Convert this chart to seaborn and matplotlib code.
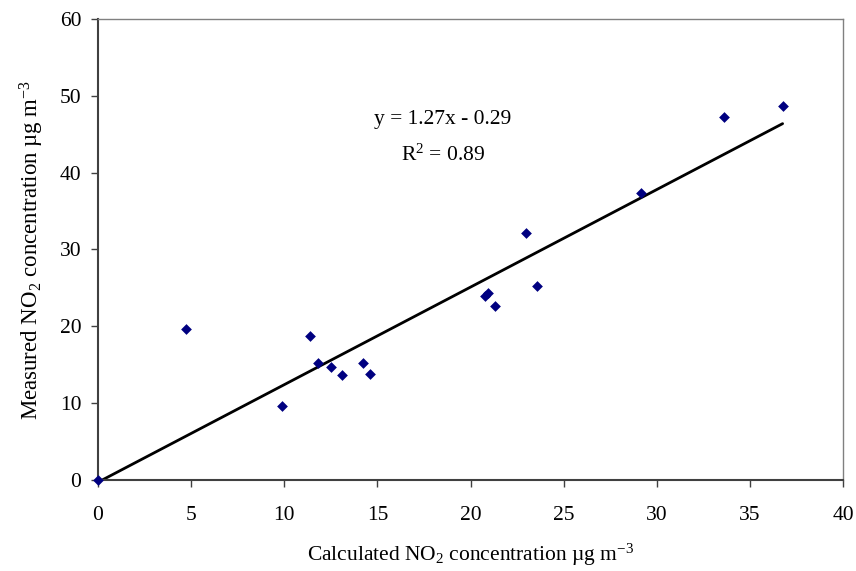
import matplotlib
matplotlib.use("Agg")
import matplotlib.pyplot as plt
import seaborn as sns
import numpy as np
import pandas as pd

calculated = [0.0, 4.7, 9.9, 11.4, 11.8, 12.5, 13.1, 14.2, 14.6, 20.75, 20.95, 21.3, 23.0, 23.55, 29.15, 33.6, 36.75]
measured = [0.0, 19.6, 9.6, 18.7, 15.2, 14.7, 13.6, 15.2, 13.8, 23.95, 24.3, 22.6, 32.2, 25.2, 37.3, 47.2, 48.7]
slope = 1.27
intercept = -0.29
r2 = 0.89
x_ticks = [0, 5, 10, 15, 20, 25, 30, 35, 40]
y_ticks = [0, 10, 20, 30, 40, 50, 60]

sns.set_theme(style="white")
plt.rcParams['font.family'] = ['Liberation Serif', 'DejaVu Serif']
plt.rcParams['mathtext.fontset'] = 'custom'
plt.rcParams['mathtext.rm'] = 'Liberation Serif'
plt.rcParams['mathtext.it'] = 'Liberation Serif:italic'
plt.rcParams['text.color'] = 'black'
plt.rcParams['axes.labelcolor'] = 'black'
plt.rcParams['xtick.color'] = 'black'
plt.rcParams['ytick.color'] = 'black'

df = pd.DataFrame({"calc": calculated, "meas": measured})

fig = plt.figure(figsize=(8.56, 5.71), dpi=100)
ax = fig.add_axes([0.1145, 0.1594, 0.8705, 0.8073])

xs = np.array([0.0, max(calculated)])
ax.plot(xs, slope * xs + intercept, color="black", lw=2, zorder=2)
sns.scatterplot(data=df, x="calc", y="meas", ax=ax, marker="D", color="#000080",
                s=30, edgecolor="#000080", linewidth=0, zorder=3, clip_on=False)

ax.set_xlim(0, 40)
ax.set_ylim(0, 60)
ax.set_xticks(x_ticks)
ax.set_yticks(y_ticks)
ax.tick_params(axis="both", direction="out", length=5, width=1, color="#404040",
               labelsize=15.5, bottom=True, left=True)
ax.tick_params(axis="x", pad=14)
ax.tick_params(axis="y", pad=7)
for side in ["left", "bottom"]:
    ax.spines[side].set_color("#404040")
    ax.spines[side].set_linewidth(1.5)
for side in ["top", "right"]:
    ax.spines[side].set_color("#808080")
    ax.spines[side].set_linewidth(1)

ax.set_xlabel(r"Calculated NO$_2$ concentration µg m$^{-3}$", fontsize=15.5, labelpad=12)
ax.set_ylabel(r"Measured NO$_2$ concentration µg m$^{-3}$", fontsize=16.5, labelpad=10)

ax.text(18.5, 46.9, f"y = {slope:.2f}x - {abs(intercept):.2f}", fontsize=15.5, ha="center", va="center")
ax.text(18.5, 42.3, f"R$^2$ = {r2:.2f}", fontsize=15.5, ha="center", va="center")

fig.savefig("out.png", dpi=100)
